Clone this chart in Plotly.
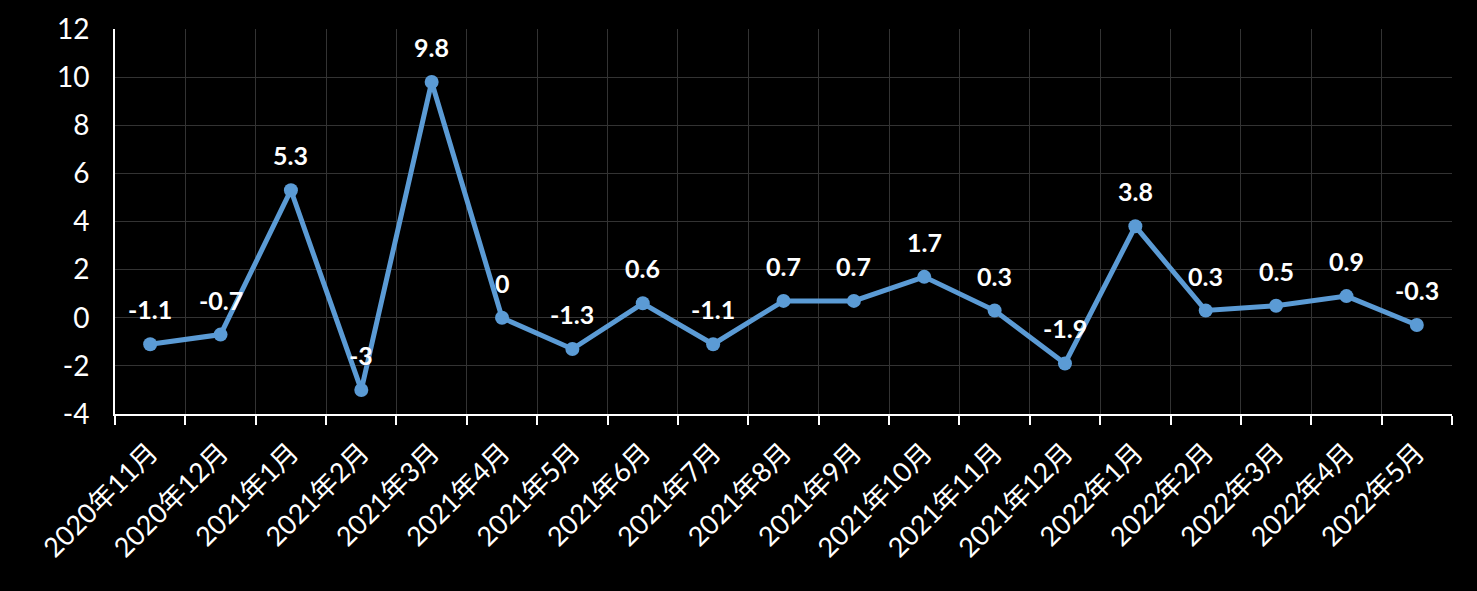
import plotly.graph_objects as go

categories = ["2020年11月", "2020年12月", "2021年1月", "2021年2月", "2021年3月", "2021年4月",
              "2021年5月", "2021年6月", "2021年7月", "2021年8月", "2021年9月", "2021年10月",
              "2021年11月", "2021年12月", "2022年1月", "2022年2月", "2022年3月", "2022年4月",
              "2022年5月"]
values = [-1.1, -0.7, 5.3, -3, 9.8, 0, -1.3, 0.6, -1.1, 0.7, 0.7, 1.7, 0.3, -1.9, 3.8, 0.3, 0.5, 0.9, -0.3]
y_ticks = [-4, -2, 0, 2, 4, 6, 8, 10, 12]

FONT = "Lato, 'Noto Sans CJK SC', sans-serif"

fig = go.Figure()
fig.add_trace(go.Scatter(
    x=categories, y=values, mode="lines+markers",
    line=dict(color="#5B9BD5", width=5),
    marker=dict(color="#5B9BD5", size=14),
    showlegend=False, hoverinfo="skip",
))

for c, v in zip(categories, values):
    fig.add_annotation(x=c, y=v, text=f"{v:g}", showarrow=False, yshift=35,
                       font=dict(family=FONT, size=25, color="white", weight="bold"))

fig.update_layout(
    width=1477, height=591,
    paper_bgcolor="black", plot_bgcolor="black",
    margin=dict(l=115, r=25, t=29, b=177),
    font=dict(family=FONT, color="white"),
)
fig.update_xaxes(
    type="category", range=[-0.5, len(categories) - 0.5],
    tickson="boundaries", ticks="outside", ticklen=9, tickwidth=2, tickcolor="white",
    showgrid=True, gridcolor="#333333", gridwidth=1,
    showline=True, linecolor="white", linewidth=2,
    tickangle=-45, tickfont=dict(size=27, color="white", family=FONT), ticklabelstandoff=10,
)
fig.update_yaxes(
    range=[-4, 12], tickvals=y_ticks, ticktext=[str(t) for t in y_ticks],
    showgrid=True, gridcolor="#333333", gridwidth=1, zeroline=False,
    showline=True, linecolor="white", linewidth=2, ticks="",
    tickfont=dict(size=28, color="white", family=FONT), ticklabelstandoff=18,
)
fig.write_html("out.html")
